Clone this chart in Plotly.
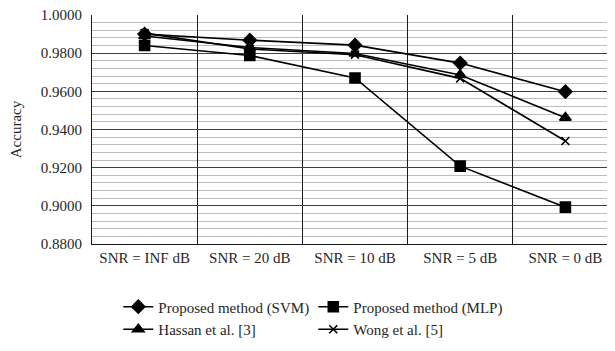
import plotly.graph_objects as go

categories = ["SNR = INF dB", "SNR = 20 dB", "SNR = 10 dB", "SNR = 5 dB", "SNR = 0 dB"]
svm = [0.9900, 0.9868, 0.9842, 0.9748, 0.9598]
mlp = [0.9840, 0.9788, 0.9670, 0.9208, 0.8993]
hassan = [0.9890, 0.9830, 0.9798, 0.9686, 0.9462]
wong = [0.9905, 0.9822, 0.9792, 0.9668, 0.9340]
yticks = [0.88, 0.90, 0.92, 0.94, 0.96, 0.98, 1.00]

series = [
    ("Proposed method (SVM)", svm, "diamond", 10),
    ("Proposed method (MLP)", mlp, "square", 10),
    ("Hassan et al. [3]", hassan, "triangle-up", 10),
    ("Wong et al. [5]", wong, "x-thin", 8),
]

fig = go.Figure()
for name, vals, sym, sz in series:
    fig.add_trace(go.Scatter(
        x=categories, y=vals, name=name, mode="lines+markers",
        line=dict(color="black", width=1.6),
        marker=dict(symbol=sym, size=sz, color="black",
                    line=dict(color="black", width=1.6)),
    ))

font = "Liberation Serif, Times New Roman, serif"
txt = "#262626"
fig.update_layout(
    width=615, height=351,
    margin=dict(l=84, r=5, t=7, b=115, autoexpand=False),
    paper_bgcolor="white", plot_bgcolor="white",
    font=dict(family=font, size=15, color=txt),
    showlegend=True,
    legend=dict(orientation="h", x=0.05, y=-0.203, xanchor="left", yanchor="top",
                entrywidth=150, entrywidthmode="pixels",
                font=dict(family=font, size=15, color=txt),
                tracegroupgap=0),
    xaxis=dict(type="category", range=[-0.5, 4.5], tickson="boundaries", showgrid=True,
               gridcolor="#1a1a1a", gridwidth=1, ticks="", showline=True,
               linecolor="#1a1a1a", linewidth=1, mirror=False,
               tickfont=dict(family=font, size=15, color=txt)),
    yaxis=dict(range=[0.88, 1.0], tickvals=yticks,
               ticktext=[f"{v:.4f}" for v in yticks],
               showgrid=True, gridcolor="#404040", gridwidth=1,
               minor=dict(dtick=0.004, showgrid=True, gridcolor="#bdbdbd", gridwidth=1),
               showline=True, linecolor="#1a1a1a", linewidth=1, mirror=True,
               ticks="", zeroline=False, ticklabelstandoff=6, ticklabeloverflow="allow",
               automargin=True,
               title=dict(text="Accuracy", font=dict(family=font, size=15, color=txt), standoff=16),
               tickfont=dict(family=font, size=15, color=txt)),
)
fig.write_html("out.html")
